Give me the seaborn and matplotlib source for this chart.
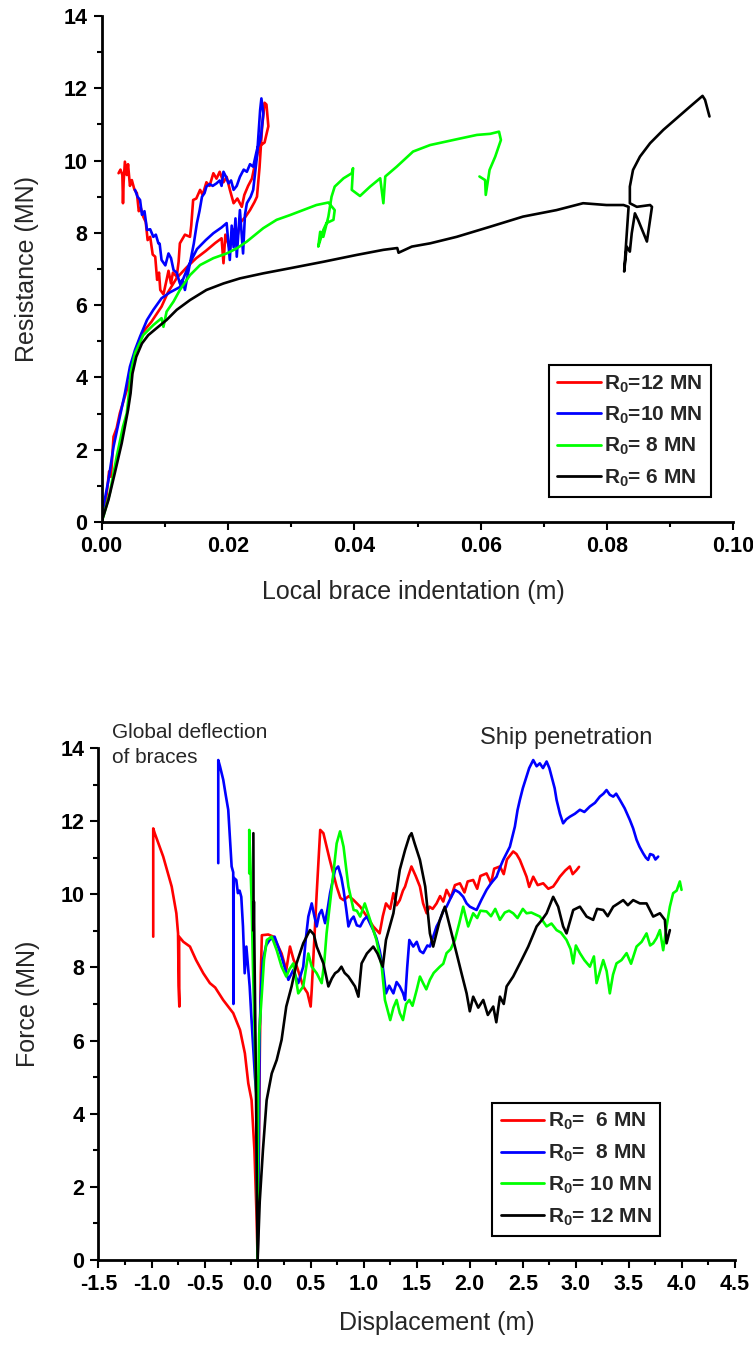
import numpy as np
import pandas as pd
import matplotlib
matplotlib.use("Agg")
import matplotlib.pyplot as plt
from matplotlib.ticker import MultipleLocator, FormatStrFormatter
import seaborn as sns

# ---------------- data: top chart (local brace indentation) ----------------
top_labels = ["R$_0$=12 MN", "R$_0$=10 MN", "R$_0$= 8 MN", "R$_0$= 6 MN"]
top_colors = ["#ff0000", "#0000ff", "#00ff00", "#000000"]

t12_x = [0.0000, 0.0006, 0.0012, 0.0015, 0.0019, 0.0024, 0.0029, 0.0040, 0.0048, 0.0053, 0.0064, 0.0079,
         0.0095, 0.0105, 0.0119, 0.0135, 0.0150, 0.0165, 0.0180, 0.0190, 0.0193, 0.0196, 0.0203, 0.0208,
         0.0214, 0.0219, 0.0228, 0.0235, 0.0242, 0.0246, 0.0250, 0.0254, 0.0258, 0.0261, 0.0264,
         0.0258, 0.0250, 0.0244, 0.0238, 0.0232, 0.0226, 0.0222, 0.0215, 0.0209, 0.0203, 0.0198, 0.0193,
         0.0187, 0.0182, 0.0177, 0.0171, 0.0166, 0.0160, 0.0156, 0.0150, 0.0145, 0.0142, 0.0140, 0.0132,
         0.0124, 0.0122, 0.0119, 0.0113, 0.0110, 0.0106, 0.0103, 0.0098, 0.0093, 0.0091, 0.0088, 0.0085,
         0.0081, 0.0077, 0.0073, 0.0070, 0.0066, 0.0062, 0.0059, 0.0056, 0.0052, 0.0048, 0.0045, 0.0042,
         0.0040, 0.0037, 0.0035, 0.0034, 0.0033, 0.0030, 0.0027]
t12_y = [0.00, 0.42, 1.40, 1.25, 2.36, 2.60, 3.01, 3.65, 4.11, 4.67, 5.22, 5.54,
         5.96, 6.35, 6.75, 7.05, 7.30, 7.50, 7.72, 7.85, 7.16, 7.95, 7.55, 8.10,
         7.80, 8.27, 8.45, 8.63, 8.85, 9.00, 9.80, 10.90, 11.60, 11.55, 10.95,
         10.50, 10.40, 10.00, 9.50, 9.30, 9.05, 8.72, 8.95, 8.82, 9.20, 9.55, 9.40,
         9.69, 9.50, 9.65, 9.30, 9.40, 9.05, 9.19, 8.95, 8.91, 8.20, 7.89, 7.95,
         7.71, 7.20, 6.79, 6.90, 6.60, 6.95, 6.70, 6.30, 6.42, 6.90, 6.70, 7.34,
         7.40, 7.89, 7.80, 8.30, 8.45, 8.70, 8.60, 9.10, 9.20, 9.46, 9.30, 9.90,
         9.60, 9.97, 9.40, 8.82, 9.60, 9.75, 9.65]

t10_x = [0.0000, 0.0003, 0.0011, 0.0019, 0.0029, 0.0037, 0.0045, 0.0053, 0.0061, 0.0072, 0.0082, 0.0095,
         0.0108, 0.0124, 0.0138, 0.0151, 0.0165, 0.0177, 0.0190, 0.0198, 0.0203, 0.0206, 0.0209, 0.0212,
         0.0214, 0.0219, 0.0224, 0.0227, 0.0230, 0.0236, 0.0240, 0.0246, 0.0251, 0.0253, 0.0256,
         0.0252, 0.0246, 0.0240, 0.0235, 0.0230, 0.0225, 0.0219, 0.0214, 0.0209, 0.0205, 0.0201, 0.0197,
         0.0193, 0.0190, 0.0187, 0.0182, 0.0176, 0.0171, 0.0166, 0.0163, 0.0159, 0.0155, 0.0151, 0.0146,
         0.0140, 0.0136, 0.0132, 0.0128, 0.0124, 0.0119, 0.0114, 0.0110, 0.0106, 0.0101, 0.0095, 0.0092,
         0.0090, 0.0086, 0.0082, 0.0077, 0.0072, 0.0068, 0.0064, 0.0061, 0.0057, 0.0053]
t10_y = [0.00, 0.42, 1.16, 2.08, 2.91, 3.56, 4.30, 4.76, 5.13, 5.59, 5.87, 6.19,
         6.35, 6.50, 7.10, 7.55, 7.80, 7.99, 8.15, 8.27, 7.25, 8.20, 7.60, 8.40,
         7.34, 8.63, 7.43, 8.50, 8.82, 9.00, 9.19, 10.11, 11.40, 11.72, 11.31,
         10.60, 10.30, 9.83, 9.90, 9.69, 9.75, 9.55, 9.30, 9.19, 9.45, 9.37, 9.55,
         9.69, 9.30, 9.45, 9.37, 9.30, 9.35, 9.28, 9.10, 9.00, 8.60, 8.27, 7.70,
         7.16, 6.80, 6.42, 6.70, 6.60, 6.90, 6.97, 7.30, 7.43, 7.10, 7.25, 7.70,
         7.71, 7.95, 7.89, 8.10, 8.08, 8.60, 8.50, 8.91, 9.00, 9.19]

t8_x = [0.0000, 0.0003, 0.0013, 0.0024, 0.0034, 0.0040, 0.0044, 0.0046, 0.0053, 0.0066, 0.0082, 0.0095,
        0.0098, 0.0103, 0.0114, 0.0124, 0.0140, 0.0156, 0.0177, 0.0198, 0.0214, 0.0230, 0.0256, 0.0277,
        0.0298, 0.0319, 0.0340, 0.0359, 0.0369, 0.0367, 0.0356, 0.0351, 0.0343, 0.0346, 0.0351, 0.0359,
        0.0364, 0.0369, 0.0383, 0.0396, 0.0398, 0.0396, 0.0409, 0.0425, 0.0441, 0.0446, 0.0449, 0.0467,
        0.0493, 0.0520, 0.0562, 0.0594, 0.0615, 0.0629, 0.0632, 0.0623, 0.0614, 0.0608, 0.0607, 0.0598]
t8_y = [0.00, 0.15, 0.79, 1.81, 2.64, 3.01, 3.65, 4.11, 4.67, 5.17, 5.45, 5.64,
        5.40, 5.82, 6.10, 6.42, 6.83, 7.11, 7.30, 7.43, 7.57, 7.76, 8.13, 8.36,
        8.49, 8.63, 8.77, 8.84, 8.63, 8.36, 8.27, 8.08, 7.62, 8.03, 7.89, 8.45,
        9.00, 9.28, 9.51, 9.65, 9.79, 9.19, 9.02, 9.28, 9.51, 8.82, 9.56, 9.83,
        10.25, 10.43, 10.59, 10.71, 10.74, 10.80, 10.57, 10.11, 9.74, 9.05, 9.46, 9.56]

t6_x = [0.0000, 0.0011, 0.0021, 0.0032, 0.0037, 0.0042, 0.0046, 0.0049, 0.0055, 0.0064, 0.0074, 0.0087,
        0.0103, 0.0119, 0.0140, 0.0166, 0.0193, 0.0219, 0.0256, 0.0298, 0.0351, 0.0404, 0.0446, 0.0468,
        0.0470, 0.0491, 0.0520, 0.0562, 0.0615, 0.0667, 0.0720, 0.0762, 0.0799, 0.0826, 0.0834, 0.0827,
        0.0831, 0.0836, 0.0839, 0.0844, 0.0849, 0.0863, 0.0871, 0.0868, 0.0847, 0.0836, 0.0836, 0.0841,
        0.0852, 0.0868, 0.0889, 0.0910, 0.0931, 0.0951, 0.0955, 0.0962]
t6_y = [0.00, 0.61, 1.35, 2.18, 2.64, 3.10, 3.56, 4.11, 4.57, 4.94, 5.17, 5.36,
        5.59, 5.87, 6.14, 6.42, 6.60, 6.74, 6.88, 7.02, 7.20, 7.39, 7.53, 7.58,
        7.45, 7.62, 7.71, 7.89, 8.17, 8.45, 8.63, 8.82, 8.77, 8.77, 8.72, 6.93,
        7.62, 7.48, 7.99, 8.54, 8.36, 7.76, 8.72, 8.77, 8.72, 8.82, 9.28, 9.74,
        10.11, 10.48, 10.85, 11.17, 11.49, 11.79, 11.68, 11.22]

# ---------------- data: bottom chart (displacement) ----------------
bot_labels = ["R$_0$=  6 MN", "R$_0$=  8 MN", "R$_0$= 10 MN", "R$_0$= 12 MN"]
bot_colors = ["#ff0000", "#0000ff", "#00ff00", "#000000"]

b6_x = [-0.984, -0.984, -0.97, -0.93, -0.89, -0.85, -0.81, -0.766, -0.75, -0.745, -0.738, -0.740, -0.70,
        -0.638, -0.58, -0.512, -0.45, -0.40, -0.325, -0.23, -0.166, -0.12, -0.088, -0.057, -0.03, -0.01,
        0.0, 0.01, 0.02, 0.03, 0.04, 0.10, 0.15, 0.19, 0.226, 0.27, 0.305, 0.34, 0.37, 0.43, 0.47, 0.50,
        0.51, 0.535, 0.557, 0.59, 0.62, 0.68, 0.745, 0.78, 0.81, 0.86, 0.905, 0.967, 1.03, 1.09, 1.15,
        1.18, 1.21, 1.25, 1.28, 1.31, 1.34, 1.37, 1.39, 1.42, 1.45, 1.49, 1.53, 1.56, 1.593, 1.62, 1.65,
        1.687, 1.72, 1.75, 1.781, 1.82, 1.86, 1.907, 1.95, 1.98, 2.032, 2.07, 2.10, 2.158, 2.20, 2.23,
        2.284, 2.32, 2.35, 2.409, 2.44, 2.472, 2.535, 2.56, 2.598, 2.64, 2.692, 2.74, 2.786, 2.82, 2.849,
        2.90, 2.943, 2.97, 3.006, 3.03]
b6_y = [8.84, 11.80, 11.67, 11.35, 11.03, 10.62, 10.21, 9.48, 8.93, 7.50, 6.93, 8.84, 8.70,
        8.57, 8.20, 7.84, 7.57, 7.45, 7.11, 6.75, 6.29, 5.65, 4.83, 4.37, 3.00, 1.20,
        0.00, 2.50, 5.50, 7.80, 8.88, 8.90, 8.84, 8.60, 8.38, 7.93, 8.57, 8.20, 8.02, 7.48, 7.30, 6.93,
        7.39, 8.80, 10.03, 11.76, 11.67, 10.94, 10.21, 9.90, 9.84, 9.95, 9.84, 9.66, 9.39, 9.12, 8.93,
        9.40, 9.75, 9.60, 10.03, 9.70, 9.84, 10.10, 10.21, 10.50, 10.76, 10.50, 10.21, 9.75, 9.48, 9.66, 9.60,
        9.75, 9.95, 9.80, 10.12, 9.90, 10.25, 10.30, 10.05, 10.35, 10.39, 10.15, 10.50, 10.57, 10.30, 10.70,
        10.76, 10.55, 10.95, 11.17, 11.10, 10.94, 10.48, 10.20, 10.48, 10.25, 10.30, 10.15, 10.21, 10.35, 10.48,
        10.65, 10.76, 10.55, 10.66, 10.75]

b8_x = [-0.371, -0.371, -0.355, -0.324, -0.30, -0.277, -0.26, -0.245, -0.23, -0.228, -0.225, -0.201, -0.186,
        -0.17, -0.154, -0.138, -0.122, -0.106, -0.09, -0.075, -0.06, -0.044, -0.025, -0.012, -0.005, 0.0,
        0.01, 0.02, 0.035, 0.05, 0.08, 0.113, 0.16, 0.19, 0.226, 0.26, 0.29, 0.336, 0.383, 0.43, 0.455,
        0.478, 0.51, 0.535, 0.557, 0.58, 0.604, 0.636, 0.66, 0.683, 0.73, 0.76, 0.79, 0.81, 0.835, 0.856,
        0.88, 0.905, 0.935, 0.967, 1.00, 1.03, 1.06, 1.09, 1.12, 1.15, 1.18, 1.21, 1.24, 1.28, 1.31, 1.34,
        1.37, 1.39, 1.41, 1.43, 1.467, 1.50, 1.53, 1.561, 1.60, 1.624, 1.687, 1.72, 1.75, 1.781, 1.82, 1.86,
        1.90, 1.938, 1.97, 2.001, 2.064, 2.11, 2.158, 2.20, 2.252, 2.28, 2.315, 2.378, 2.425, 2.45, 2.472,
        2.50, 2.535, 2.56, 2.598, 2.63, 2.66, 2.69, 2.724, 2.75, 2.771, 2.80, 2.818, 2.85, 2.88, 2.91, 2.943,
        2.99, 3.038, 3.08, 3.132, 3.18, 3.226, 3.26, 3.289, 3.32, 3.352, 3.38, 3.415, 3.46, 3.509, 3.54,
        3.572, 3.60, 3.634, 3.66, 3.681, 3.70, 3.729, 3.75, 3.776]
b8_y = [10.85, 13.67, 13.50, 13.13, 12.70, 12.31, 11.50, 10.76, 10.60, 7.00, 10.45, 10.39, 10.03,
        10.10, 9.93, 9.12, 7.84, 8.57, 8.00, 7.48, 6.70, 5.93, 5.00, 4.56, 2.00, 0.00,
        2.80, 6.38, 7.60, 8.20, 8.60, 8.75, 8.84, 8.60, 8.29, 7.95, 7.66, 7.93, 7.57, 8.02, 8.80,
        9.39, 9.75, 9.40, 9.12, 9.45, 9.57, 9.21, 9.60, 10.03, 10.67, 10.76, 10.45, 10.12, 9.60, 9.12,
        9.30, 9.39, 9.15, 9.12, 9.30, 9.39, 9.20, 9.02, 8.80, 8.47, 8.02, 7.29, 7.50, 7.29, 7.60, 7.48,
        7.30, 7.11, 8.00, 8.75, 8.57, 8.70, 8.45, 8.39, 8.60, 8.57, 9.12, 9.30, 9.55, 9.66, 9.90, 10.12,
        10.05, 9.93, 9.75, 9.66, 9.57, 9.85, 10.12, 10.30, 10.48, 10.70, 10.94, 11.30, 11.85, 12.30, 12.58,
        12.90, 13.22, 13.45, 13.67, 13.50, 13.58, 13.45, 13.63, 13.45, 13.22, 12.90, 12.58, 12.20, 11.94, 12.05, 12.12,
        12.20, 12.31, 12.25, 12.40, 12.50, 12.67, 12.75, 12.85, 12.72, 12.67, 12.75, 12.58, 12.35, 12.03, 11.80,
        11.49, 11.30, 11.12, 11.00, 10.94, 11.10, 11.07, 10.95, 11.03]

b10_x = [-0.079, -0.079, -0.070, -0.057, -0.044, -0.028, -0.012, 0.0, 0.004, 0.015, 0.04, 0.06, 0.087,
         0.133, 0.18, 0.226, 0.27, 0.30, 0.336, 0.36, 0.383, 0.43, 0.478, 0.51, 0.557, 0.604, 0.63, 0.65,
         0.70, 0.745, 0.777, 0.81, 0.835, 0.856, 0.905, 0.935, 0.967, 1.01, 1.06, 1.12, 1.17, 1.20, 1.25,
         1.28, 1.31, 1.34, 1.37, 1.40, 1.43, 1.46, 1.50, 1.53, 1.56, 1.59, 1.624, 1.66, 1.718, 1.75, 1.781,
         1.82, 1.86, 1.90, 1.938, 1.96, 1.985, 2.032, 2.07, 2.10, 2.158, 2.20, 2.24, 2.284, 2.33, 2.37,
         2.409, 2.45, 2.50, 2.535, 2.58, 2.661, 2.724, 2.77, 2.818, 2.86, 2.912, 2.95, 2.975, 3.00, 3.038,
         3.08, 3.132, 3.17, 3.195, 3.258, 3.29, 3.32, 3.35, 3.383, 3.43, 3.478, 3.52, 3.572, 3.62, 3.666,
         3.70, 3.729, 3.76, 3.792, 3.823, 3.855, 3.886, 3.917, 3.95, 3.98, 3.996]
b10_y = [10.57, 11.76, 11.00, 9.84, 8.02, 6.20, 4.37, 0.00, 4.50, 6.20, 7.29, 8.20, 8.75,
         8.84, 8.47, 8.02, 7.75, 7.95, 8.11, 7.70, 7.29, 7.48, 8.38, 8.02, 7.84, 7.57, 8.20, 8.93,
         10.21, 11.39, 11.72, 11.30, 10.70, 10.21, 9.57, 9.55, 9.39, 9.75, 9.30, 8.75, 8.02, 7.11, 6.56,
         6.90, 7.11, 6.75, 6.56, 7.00, 7.11, 6.95, 7.39, 7.75, 7.57, 7.40, 7.66, 7.85, 8.02, 8.10, 8.39,
         8.50, 8.75, 9.20, 9.66, 9.40, 9.12, 9.48, 9.35, 9.55, 9.53, 9.40, 9.60, 9.30, 9.50, 9.55,
         9.48, 9.35, 9.60, 9.48, 9.50, 9.39, 9.12, 9.20, 9.02, 8.95, 8.75, 8.50, 8.11, 8.60, 8.39,
         8.20, 8.02, 8.30, 7.57, 8.20, 7.90, 7.29, 7.80, 8.11, 8.20, 8.39, 8.10, 8.57, 8.70, 8.93,
         8.60, 8.66, 8.80, 9.02, 8.47, 9.12, 9.66, 10.03, 10.10, 10.35, 10.12]

b12_x = [-0.040, -0.038, -0.035, -0.030, -0.020, -0.010, 0.0, 0.02, 0.05, 0.085, 0.133, 0.18, 0.226,
         0.27, 0.32, 0.367, 0.43, 0.493, 0.53, 0.557, 0.62, 0.667, 0.70, 0.73, 0.76, 0.79, 0.82, 0.856,
         0.918, 0.95, 0.98, 1.03, 1.09, 1.13, 1.18, 1.21, 1.28, 1.34, 1.39, 1.43, 1.451, 1.48, 1.53, 1.58,
         1.624, 1.655, 1.718, 1.765, 1.812, 1.875, 1.922, 1.970, 2.00, 2.032, 2.08, 2.127, 2.17, 2.221,
         2.25, 2.284, 2.32, 2.347, 2.409, 2.488, 2.551, 2.630, 2.68, 2.724, 2.786, 2.833, 2.880, 2.912,
         2.975, 3.038, 3.101, 3.163, 3.20, 3.258, 3.30, 3.352, 3.40, 3.446, 3.49, 3.540, 3.603, 3.666,
         3.729, 3.792, 3.839, 3.855, 3.886]
b12_y = [11.67, 9.00, 9.80, 8.50, 6.00, 3.00, 0.00, 1.60, 3.00, 4.37, 5.10, 5.47, 6.02,
         6.93, 7.48, 8.11, 8.66, 9.02, 8.90, 8.57, 8.11, 7.48, 7.70, 7.84, 7.90, 8.02, 7.85, 7.75,
         7.48, 7.20, 8.11, 8.38, 8.57, 8.38, 8.02, 8.75, 9.48, 10.67, 11.21, 11.58, 11.67, 11.39, 10.94, 10.21,
         8.93, 8.57, 9.30, 9.66, 9.12, 8.39, 7.84, 7.29, 6.80, 7.20, 6.90, 7.11, 6.70, 6.93,
         6.50, 7.20, 7.00, 7.48, 7.75, 8.20, 8.57, 9.12, 9.30, 9.48, 9.93, 9.66, 9.12, 8.93,
         9.57, 9.66, 9.39, 9.30, 9.60, 9.57, 9.40, 9.66, 9.75, 9.84, 9.70, 9.84, 9.75, 9.75,
         9.39, 9.48, 9.30, 8.66, 9.02]

top_series = [(t12_x, t12_y), (t10_x, t10_y), (t8_x, t8_y), (t6_x, t6_y)]
bot_series = [(b6_x, b6_y), (b8_x, b8_y), (b10_x, b10_y), (b12_x, b12_y)]

# ---------------- style ----------------
sns.set_style("ticks")
plt.rcParams["font.family"] = ["Liberation Sans", "DejaVu Sans"]
plt.rcParams["mathtext.fontset"] = "custom"
plt.rcParams["mathtext.rm"] = "Liberation Sans"
plt.rcParams["mathtext.bf"] = "Liberation Sans:bold"
plt.rcParams["mathtext.default"] = "regular"
plt.rcParams["axes.unicode_minus"] = False

fig = plt.figure(figsize=(7.53, 13.46), dpi=100)
ax1 = fig.add_axes([0.1348, 0.6122, 0.8393, 0.3759])
ax2 = fig.add_axes([0.1308, 0.0639, 0.8453, 0.3804])

LW = 1.9


def draw(ax, series, colors):
    for (xs, ys), c in zip(series, colors):
        df = pd.DataFrame({"x": xs, "y": ys})
        sns.lineplot(data=df, x="x", y="y", ax=ax, color=c, lw=LW, sort=False,
                     estimator=None, legend=False)


draw(ax1, top_series, top_colors)
draw(ax2, bot_series, bot_colors)


def style(ax, xmaj, xmin, xfmt):
    for s in ["top", "right"]:
        ax.spines[s].set_visible(False)
    for s in ["left", "bottom"]:
        ax.spines[s].set_linewidth(2.0)
        ax.spines[s].set_color("black")
    ax.yaxis.set_major_locator(MultipleLocator(2))
    ax.yaxis.set_minor_locator(MultipleLocator(1))
    ax.xaxis.set_major_locator(MultipleLocator(xmaj))
    ax.xaxis.set_minor_locator(MultipleLocator(xmin))
    ax.xaxis.set_major_formatter(FormatStrFormatter(xfmt))
    ax.yaxis.set_major_formatter(FormatStrFormatter("%d"))
    ax.tick_params(which="major", direction="out", length=6, width=1.5, colors="black",
                   labelsize=15.5, pad=4)
    ax.tick_params(which="minor", direction="out", length=3.5, width=1.5, colors="black")
    for lab in ax.get_xticklabels() + ax.get_yticklabels():
        lab.set_fontweight("bold")


ax1.set_xlim(0, 0.1)
ax1.set_ylim(0, 14)
style(ax1, 0.02, 0.01, "%.2f")
ax1.set_xlabel("Local brace indentation (m)", fontsize=18)
ax1.set_ylabel("Resistance (MN)", fontsize=18)
ax1.xaxis.set_label_coords(0.493, -0.115)
ax1.yaxis.set_label_coords(-0.099, 0.5)

ax2.set_xlim(-1.5, 4.5)
ax2.set_ylim(0, 14)
style(ax2, 0.5, 0.25, "%.1f")
ax2.set_xlabel("Displacement (m)", fontsize=18)
ax2.set_ylabel("Force (MN)", fontsize=18)
ax2.xaxis.set_label_coords(0.532, -0.10)
ax2.yaxis.set_label_coords(-0.092, 0.5)

leg_prop = {"family": "Liberation Sans", "weight": "bold", "size": 15}
h1 = ax1.get_lines()[:4]
lg1 = ax1.legend(h1, top_labels, loc="upper right", bbox_to_anchor=(0.964, 0.31), prop=leg_prop,
                 frameon=True, fancybox=False, framealpha=1, edgecolor="black", handlelength=2.1,
                 handletextpad=0.15, labelspacing=0.48, borderpad=0.4, borderaxespad=0)
lg1.get_frame().set_linewidth(1.5)
h2 = ax2.get_lines()[:4]
lg2 = ax2.legend(h2, bot_labels, loc="upper right", bbox_to_anchor=(0.882, 0.307), prop=leg_prop,
                 frameon=True, fancybox=False, framealpha=1, edgecolor="black", handlelength=2.1,
                 handletextpad=0.15, labelspacing=0.5, borderpad=0.4, borderaxespad=0)
lg2.get_frame().set_linewidth(1.5)
for lg in (lg1, lg2):
    for ln in lg.get_lines():
        ln.set_linewidth(2.0)

ax2.text(-1.376, 14.27, "Global deflection", fontsize=15, ha="left", va="baseline", clip_on=False)
ax2.text(-1.376, 13.58, "of braces", fontsize=15, ha="left", va="baseline", clip_on=False)
ax2.text(2.095, 14.10, "Ship penetration", fontsize=17, ha="left", va="baseline", clip_on=False)

fig.savefig("out.png", dpi=100)
